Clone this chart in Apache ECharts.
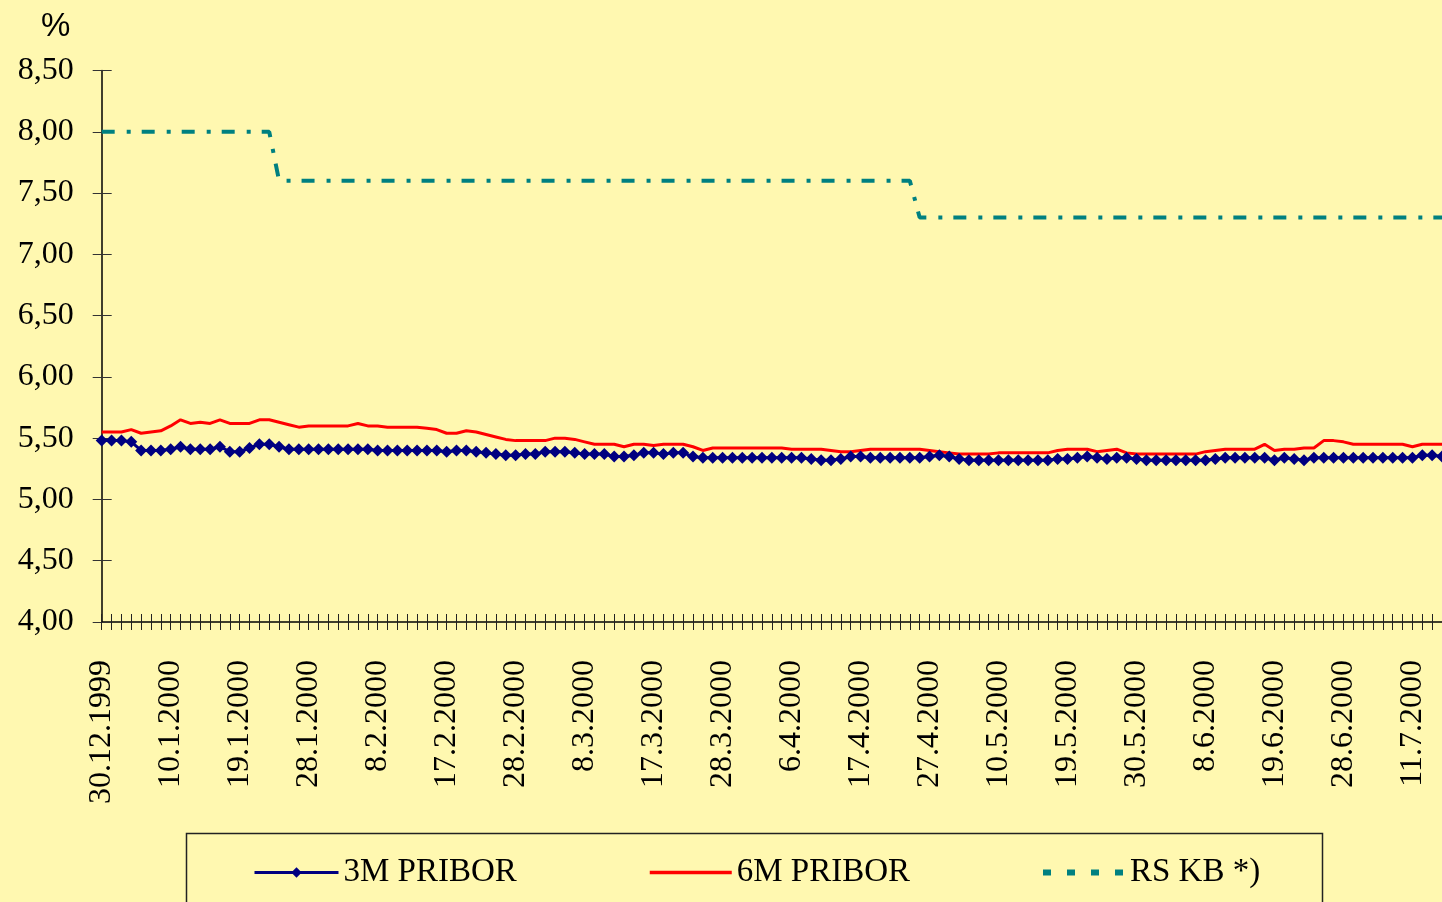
<!doctype html>
<html>
<head>
<meta charset="utf-8">
<title>PRIBOR</title>
<style>
  html, body { margin: 0; padding: 0; background: #FFF8B0; }
  #main { width: 1442px; height: 902px; }
</style>
</head>
<body>
<div id="main"></div>
<script src="https://cdn.jsdelivr.net/npm/echarts@6.0.0/dist/echarts.min.js"></script>
<script type="text/javascript">

// business days, 30.12.1999 - 14.7.2000
var dates = [
  '30.12.1999','31.12.1999','3.1.2000','4.1.2000','5.1.2000','6.1.2000','7.1.2000','10.1.2000','11.1.2000','12.1.2000',
  '13.1.2000','14.1.2000','17.1.2000','18.1.2000','19.1.2000','20.1.2000','21.1.2000','24.1.2000','25.1.2000','26.1.2000',
  '27.1.2000','28.1.2000','31.1.2000','1.2.2000','2.2.2000','3.2.2000','4.2.2000','7.2.2000','8.2.2000','9.2.2000',
  '10.2.2000','11.2.2000','14.2.2000','15.2.2000','16.2.2000','17.2.2000','18.2.2000','21.2.2000','22.2.2000','23.2.2000',
  '24.2.2000','25.2.2000','28.2.2000','29.2.2000','1.3.2000','2.3.2000','3.3.2000','6.3.2000','7.3.2000','8.3.2000',
  '9.3.2000','10.3.2000','13.3.2000','14.3.2000','15.3.2000','16.3.2000','17.3.2000','20.3.2000','21.3.2000','22.3.2000',
  '23.3.2000','24.3.2000','27.3.2000','28.3.2000','29.3.2000','30.3.2000','31.3.2000','3.4.2000','4.4.2000','5.4.2000',
  '6.4.2000','7.4.2000','10.4.2000','11.4.2000','12.4.2000','13.4.2000','14.4.2000','17.4.2000','18.4.2000','19.4.2000',
  '20.4.2000','21.4.2000','25.4.2000','26.4.2000','27.4.2000','28.4.2000','2.5.2000','3.5.2000','4.5.2000','5.5.2000',
  '9.5.2000','10.5.2000','11.5.2000','12.5.2000','15.5.2000','16.5.2000','17.5.2000','18.5.2000','19.5.2000','22.5.2000',
  '23.5.2000','24.5.2000','25.5.2000','26.5.2000','29.5.2000','30.5.2000','31.5.2000','1.6.2000','2.6.2000','5.6.2000',
  '6.6.2000','7.6.2000','8.6.2000','9.6.2000','12.6.2000','13.6.2000','14.6.2000','15.6.2000','16.6.2000','19.6.2000',
  '20.6.2000','21.6.2000','22.6.2000','23.6.2000','26.6.2000','27.6.2000','28.6.2000','29.6.2000','30.6.2000','3.7.2000',
  '4.7.2000','7.7.2000','10.7.2000','11.7.2000','12.7.2000','13.7.2000','14.7.2000'
];

var pribor3m = [
  5.48,5.48,5.48,5.47,5.40,5.40,5.40,5.41,5.43,5.41,
  5.41,5.41,5.43,5.39,5.39,5.42,5.45,5.45,5.43,5.41,
  5.41,5.41,5.41,5.41,5.41,5.41,5.41,5.41,5.40,5.40,
  5.40,5.40,5.40,5.40,5.40,5.39,5.40,5.40,5.39,5.38,
  5.37,5.36,5.36,5.37,5.37,5.39,5.39,5.39,5.38,5.37,
  5.37,5.37,5.35,5.35,5.36,5.38,5.38,5.37,5.38,5.38,
  5.35,5.34,5.34,5.34,5.34,5.34,5.34,5.34,5.34,5.34,
  5.34,5.34,5.33,5.32,5.32,5.33,5.35,5.35,5.34,5.34,
  5.34,5.34,5.34,5.34,5.35,5.36,5.35,5.33,5.32,5.32,
  5.32,5.32,5.32,5.32,5.32,5.32,5.32,5.33,5.33,5.34,
  5.35,5.34,5.33,5.34,5.34,5.33,5.32,5.32,5.32,5.32,
  5.32,5.32,5.32,5.33,5.34,5.34,5.34,5.34,5.34,5.32,
  5.34,5.33,5.32,5.34,5.34,5.34,5.34,5.34,5.34,5.34,
  5.34,5.34,5.34,5.34,5.36,5.36,5.35
];

var pribor6m = [
  5.55,5.55,5.55,5.57,5.54,5.55,5.56,5.60,5.65,5.62,
  5.63,5.62,5.65,5.62,5.62,5.62,5.65,5.65,5.63,5.61,
  5.59,5.60,5.60,5.60,5.60,5.60,5.62,5.60,5.60,5.59,
  5.59,5.59,5.59,5.58,5.57,5.54,5.54,5.56,5.55,5.53,
  5.51,5.49,5.48,5.48,5.48,5.48,5.50,5.50,5.49,5.47,
  5.45,5.45,5.45,5.43,5.45,5.45,5.44,5.45,5.45,5.45,
  5.43,5.40,5.42,5.42,5.42,5.42,5.42,5.42,5.42,5.42,
  5.41,5.41,5.41,5.41,5.40,5.39,5.39,5.40,5.41,5.41,
  5.41,5.41,5.41,5.41,5.40,5.39,5.38,5.37,5.37,5.37,
  5.37,5.38,5.38,5.38,5.38,5.38,5.38,5.40,5.41,5.41,
  5.41,5.39,5.40,5.41,5.38,5.37,5.37,5.37,5.37,5.37,
  5.37,5.37,5.39,5.40,5.41,5.41,5.41,5.41,5.45,5.40,
  5.41,5.41,5.42,5.42,5.48,5.48,5.47,5.45,5.45,5.45,
  5.45,5.45,5.45,5.43,5.45,5.45,5.45
];

var rsKb = [
  8.00,8.00,8.00,8.00,8.00,8.00,8.00,8.00,8.00,8.00,
  8.00,8.00,8.00,8.00,8.00,8.00,8.00,8.00,7.60,7.60,
  7.60,7.60,7.60,7.60,7.60,7.60,7.60,7.60,7.60,7.60,
  7.60,7.60,7.60,7.60,7.60,7.60,7.60,7.60,7.60,7.60,
  7.60,7.60,7.60,7.60,7.60,7.60,7.60,7.60,7.60,7.60,
  7.60,7.60,7.60,7.60,7.60,7.60,7.60,7.60,7.60,7.60,
  7.60,7.60,7.60,7.60,7.60,7.60,7.60,7.60,7.60,7.60,
  7.60,7.60,7.60,7.60,7.60,7.60,7.60,7.60,7.60,7.60,
  7.60,7.60,7.60,7.30,7.30,7.30,7.30,7.30,7.30,7.30,
  7.30,7.30,7.30,7.30,7.30,7.30,7.30,7.30,7.30,7.30,
  7.30,7.30,7.30,7.30,7.30,7.30,7.30,7.30,7.30,7.30,
  7.30,7.30,7.30,7.30,7.30,7.30,7.30,7.30,7.30,7.30,
  7.30,7.30,7.30,7.30,7.30,7.30,7.30,7.30,7.30,7.30,
  7.30,7.30,7.30,7.30,7.30,7.30,7.30
];

var seriesNames = ['3M PRIBOR', '6M PRIBOR', 'RS KB *)'];

var serif = '"Liberation Serif", "Times New Roman", serif';

var myChart = echarts.init(document.getElementById('main'));

function fmt(v) {
    return v.toFixed(2).replace('.', ',');
}

var legendText = { fontFamily: serif, fontSize: 33, color: '#000' };

var option = {
    backgroundColor: '#FFF8B0',
    animation: false,
    title: {
        text: '%',
        left: 41,
        top: 10,
        padding: 0,
        textStyle: { fontFamily: '"Liberation Sans", Arial, sans-serif', fontSize: 33, fontWeight: 'normal', color: '#000' }
    },
    grid: { left: 101.7, right: -2, top: 70.5, bottom: 280 },
    legend: [
        { data: [seriesNames[0]], left: 253, top: 856, padding: 0, itemWidth: 84, itemHeight: 13, textStyle: legendText,
          lineStyle: { width: 3 } },
        { data: [seriesNames[1]], left: 648, top: 856, padding: 0, itemWidth: 82, itemHeight: 13, textStyle: legendText,
          itemStyle: { opacity: 0 }, lineStyle: { width: 3.5 } },
        { data: [seriesNames[2]], left: 1040, top: 856, padding: 0, itemWidth: 82, itemHeight: 13, textStyle: legendText,
          itemStyle: { opacity: 0 }, lineStyle: { width: 6, type: [8, 16] } }
    ],
    graphic: [{
        type: 'rect',
        left: 184,
        top: 831,
        shape: { width: 1136, height: 100 },
        style: { fill: 'none', stroke: '#222', lineWidth: 1.5 },
        silent: true
    }],
    xAxis: [{
        type: 'category',
        boundaryGap: false,
        data: dates,
        axisLine: { lineStyle: { color: '#000', width: 1.5 } },
        axisTick: { interval: 0, length: 8, lineStyle: { color: '#222' } },
        axisLabel: {
            interval: 6,
            rotate: 90,
            margin: 38,
            fontFamily: serif,
            fontSize: 32,
            color: '#000'
        },
        splitLine: { show: false }
    }, {
        // ticks that cross the axis: inner half
        type: 'category',
        position: 'bottom',
        boundaryGap: false,
        data: dates,
        axisLine: { show: false },
        axisTick: { interval: 0, inside: true, length: 8, lineStyle: { color: '#222' } },
        axisLabel: { show: false },
        splitLine: { show: false }
    }],
    yAxis: [{
        type: 'value',
        min: 4,
        max: 8.5,
        interval: 0.5,
        axisLine: { show: true, lineStyle: { color: '#000', width: 1.5 } },
        axisTick: { show: true, length: 9, lineStyle: { color: '#333' } },
        axisLabel: {
            margin: 28,
            fontFamily: serif,
            fontSize: 32,
            color: '#000',
            formatter: fmt
        },
        splitLine: { show: false }
    }, {
        type: 'value',
        position: 'left',
        min: 4,
        max: 8.5,
        interval: 0.5,
        axisLine: { show: false },
        axisTick: { show: true, inside: true, length: 10, lineStyle: { color: '#333' } },
        axisLabel: { show: false },
        splitLine: { show: false }
    }],
    series: [{
        name: seriesNames[0],
        type: 'line',
        data: pribor3m,
        z: 4,
        symbol: 'diamond',
        symbolSize: 12,
        showAllSymbol: true,
        itemStyle: { color: '#000080' },
        lineStyle: { color: '#000080', width: 3 }
    }, {
        name: seriesNames[1],
        type: 'line',
        data: pribor6m,
        z: 3,
        symbol: 'none',
        itemStyle: { color: '#FF0000' },
        lineStyle: { color: '#FF0000', width: 3 }
    }, {
        name: seriesNames[2],
        type: 'line',
        data: rsKb,
        z: 2,
        symbol: 'none',
        itemStyle: { color: '#008080' },
        lineStyle: { color: '#008080', width: 4, type: [13, 12, 4, 11] }
    }]
};

myChart.setOption(option);

</script>
</body>
</html>
